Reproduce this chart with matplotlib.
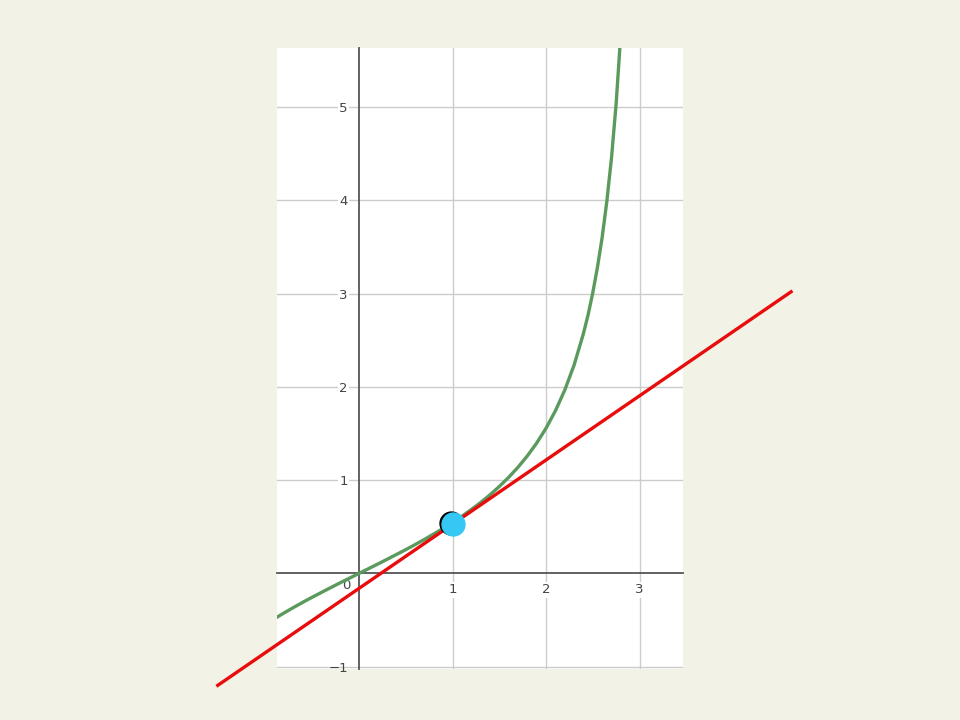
import matplotlib.pyplot as plt
import matplotlib.transforms as mtransforms

# curve values
curve_x = [-0.9, -0.8, -0.7, -0.6, -0.5, -0.4, -0.3, -0.2, -0.1, 0.0,
           0.1, 0.2, 0.3, 0.4, 0.5, 0.6, 0.7, 0.8, 0.9, 1.0,
           1.1, 1.2, 1.3, 1.4, 1.5, 1.6, 1.7, 1.8, 1.9, 2.0,
           2.1, 2.2, 2.3, 2.4, 2.45, 2.5, 2.55, 2.6, 2.65, 2.7, 2.75, 2.8]
curve_y = [-0.483, -0.423, -0.365, -0.309, -0.255, -0.203, -0.151, -0.100, -0.050, 0.0,
           0.050, 0.100, 0.151, 0.203, 0.255, 0.309, 0.365, 0.423, 0.483, 0.546,
           0.613, 0.684, 0.760, 0.842, 0.932, 1.030, 1.138, 1.260, 1.398, 1.557,
           1.743, 1.965, 2.234, 2.572, 2.774, 3.010, 3.284, 3.602, 3.989, 4.455, 5.04, 5.798]

# tangent line end points
line_x = [-1.51, 4.62]
line_y = [-1.20, 3.02]

point_x = [1.0]
point_y = [0.53]

x_ticks = [1, 2, 3]
y_ticks = [-1, 1, 2, 3, 4, 5]

bg = "#f3f2e7"
fig = plt.figure(figsize=(9.6, 7.2), dpi=100, facecolor=bg)
ax = fig.add_axes([0.2885, 0.0708, 0.423, 0.862])
ax.set_facecolor("white")

ax.set_xlim(-0.877, 3.465)
ax.set_ylim(-1.025, 5.63)

for s in ["top", "right"]:
    ax.spines[s].set_visible(False)
ax.spines["left"].set_position(("data", 0))
ax.spines["bottom"].set_position(("data", 0))
for s in ["left", "bottom"]:
    ax.spines[s].set_color("#555555")
    ax.spines[s].set_linewidth(1.3)
    ax.spines[s].set_zorder(2)

ax.set_xticks(x_ticks)
ax.set_yticks(y_ticks)
ax.set_xticklabels([str(v) for v in x_ticks])
ax.set_yticklabels(["\u22121" if v < 0 else str(v) for v in y_ticks])
ax.tick_params(length=0, labelsize=9.5, labelcolor="#444444")
ax.tick_params(axis="x", pad=7)
ax.tick_params(axis="y", pad=8)
for lab, v in zip(ax.get_yticklabels(), y_ticks):
    if v > 0:
        lab.set_bbox(dict(facecolor="white", edgecolor="none", pad=1))
for lab in ax.get_xticklabels():
    lab.set_bbox(dict(facecolor="white", edgecolor="none", pad=1))
ax.grid(True, color="#cccccc", linewidth=1)
ax.set_axisbelow(True)

ax.annotate("0", xy=(0, 0), xytext=(-9.4, -8.6), textcoords="offset points",
            ha="center", va="center", fontsize=9.5, color="#444444")

ax.plot(curve_x, curve_y, color="#5a9a5c", lw=2.4, zorder=3)
ax.plot(line_x, line_y, color="#e80c0c", lw=2.4, zorder=4, clip_on=False)

shift = mtransforms.offset_copy(ax.transData, fig=fig, x=-2, y=1, units="dots")
ax.plot(point_x, point_y, "o", color="black", ms=16.5, transform=shift, zorder=5)
ax.plot(point_x, point_y, "o", color="#35c8f5", ms=16.5, zorder=6)

plt.savefig("out.png", dpi=100, facecolor=bg)
